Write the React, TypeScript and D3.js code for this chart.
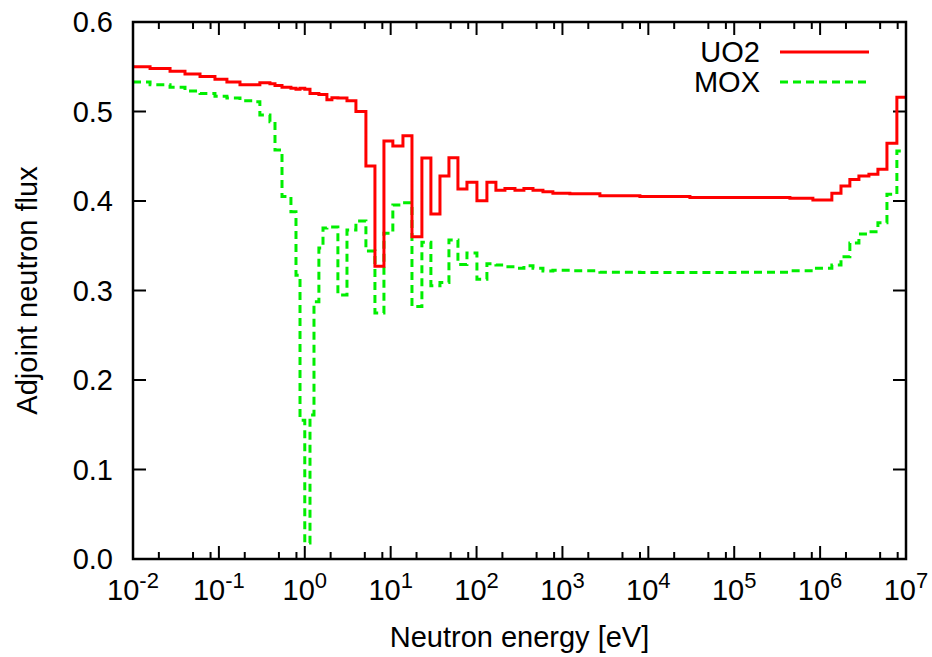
import React from 'react';
import * as d3 from 'd3';

// energy group boundaries [eV], shared by both spectra
const edges = [
  0.01, 0.0158, 0.027, 0.0403, 0.0603, 0.09, 0.124, 0.176, 0.25, 0.3, 0.393, 0.45, 0.543, 0.69, 0.79, 0.88,
  1.0, 1.15, 1.28, 1.46, 1.63, 1.81, 2.07, 2.43, 3.1, 3.94, 5.15, 6.56, 8.35, 10.6, 13.9, 17.7, 23.1, 29.4,
  37.5, 47.7, 60.7, 77.3, 101, 132, 168, 214, 280, 356, 454, 593, 774, 1220, 2730, 7980, 3.05e4, 1.16e5,
  4.45e5, 8.24e5, 1.37e6, 1.75e6, 2.22e6, 2.83e6, 3.7e6, 4.71e6, 6.0e6, 7.83e6, 1e7,
];

// adjoint flux per group (one value less than edges)
const uo2 = [
  0.55, 0.548, 0.545, 0.542, 0.539, 0.536, 0.533, 0.53, 0.53, 0.532, 0.531, 0.529, 0.527, 0.526, 0.525,
  0.526, 0.525, 0.52, 0.52, 0.519, 0.519, 0.513, 0.5155, 0.515, 0.512, 0.5, 0.439, 0.327, 0.467, 0.4615,
  0.473, 0.36, 0.448, 0.3855, 0.428, 0.4484, 0.4134, 0.421, 0.4004, 0.421, 0.412, 0.414, 0.412, 0.414,
  0.412, 0.4104, 0.4086, 0.408, 0.406, 0.405, 0.404, 0.404, 0.403, 0.401, 0.4086, 0.4168, 0.424, 0.428,
  0.43, 0.4354, 0.4645, 0.516,
];

const mox = [
  0.533, 0.53, 0.527, 0.523, 0.52, 0.517, 0.515, 0.512, 0.511, 0.496, 0.4886, 0.457, 0.405, 0.388, 0.317,
  0.155, 0.018, 0.161, 0.2875, 0.3475, 0.3698, 0.371, 0.371, 0.295, 0.3676, 0.3777, 0.344, 0.275, 0.364,
  0.3955, 0.398, 0.282, 0.354, 0.3054, 0.3088, 0.3564, 0.329, 0.342, 0.3125, 0.33, 0.3285, 0.3266, 0.325,
  0.3277, 0.325, 0.3218, 0.3225, 0.322, 0.3205, 0.32, 0.32, 0.3205, 0.322, 0.325, 0.3285, 0.3378, 0.353,
  0.363, 0.3657, 0.3758, 0.4075, 0.4559,
];

const xExponents = [-2, -1, 0, 1, 2, 3, 4, 5, 6, 7];
const yTicks = [0, 0.1, 0.2, 0.3, 0.4, 0.5, 0.6];
const minorMultipliers = [2, 5, 8];

const W = 932;
const H = 657;
const margin = { left: 133, right: 26, top: 22, bottom: 98 };
const font = '"Liberation Sans", Arial, Helvetica, sans-serif';

export default function App() {
  const x = d3.scaleLog().domain([1e-2, 1e7]).range([margin.left, W - margin.right]);
  const y = d3.scaleLinear().domain([0, 0.6]).range([H - margin.bottom, margin.top]);
  const [x0, x1] = x.range();
  const [y0, y1] = y.range();

  const line = d3
    .line<[number, number]>()
    .x((d) => x(d[0]))
    .y((d) => y(d[1]))
    .curve(d3.curveStepAfter);

  const pts = (vals: number[]): [number, number][] => {
    const p = vals.map((v, i) => [edges[i], v] as [number, number]);
    p.push([edges[edges.length - 1], vals[vals.length - 1]]);
    return p;
  };

  const minor: number[] = [];
  xExponents.slice(0, -1).forEach((e) => minorMultipliers.forEach((m) => minor.push(m * Math.pow(10, e))));

  const major = 13;
  const small = 7;

  return (
    <svg width={W} height={H} style={{ position: 'absolute', left: 0, top: 0, background: '#fff' }}>
      <defs>
        <clipPath id="plot">
          <rect x={x0} y={y1} width={x1 - x0} height={y0 - y1} />
        </clipPath>
      </defs>
      <rect width={W} height={H} fill="#fff" />

      {/* ticks, mirrored on all sides */}
      <g stroke="#000" strokeWidth={2}>
        {xExponents.map((e) => (
          <g key={'xm' + e}>
            <line x1={x(Math.pow(10, e))} x2={x(Math.pow(10, e))} y1={y0} y2={y0 - major} />
            <line x1={x(Math.pow(10, e))} x2={x(Math.pow(10, e))} y1={y1} y2={y1 + major} />
          </g>
        ))}
        {minor.map((m, i) => (
          <g key={'xn' + i}>
            <line x1={x(m)} x2={x(m)} y1={y0} y2={y0 - small} />
            <line x1={x(m)} x2={x(m)} y1={y1} y2={y1 + small} />
          </g>
        ))}
        {yTicks.map((t) => (
          <g key={'y' + t}>
            <line x1={x0} x2={x0 + major} y1={y(t)} y2={y(t)} />
            <line x1={x1} x2={x1 - major} y1={y(t)} y2={y(t)} />
          </g>
        ))}
      </g>

      {/* data */}
      <g clipPath="url(#plot)" fill="none">
        <path d={line(pts(mox)) ?? ''} stroke="#00ee00" strokeWidth={3} strokeDasharray="8,5" />
        <path d={line(pts(uo2)) ?? ''} stroke="#ff0000" strokeWidth={3} />
      </g>

      <rect x={x0} y={y1} width={x1 - x0} height={y0 - y1} fill="none" stroke="#000" strokeWidth={2.5} />

      {/* tick labels */}
      <g fontFamily={font} fontSize={29} fill="#000">
        {yTicks.map((t) => (
          <text key={'yl' + t} x={x0 - 20} y={y(t)} dy="0.36em" textAnchor="end">
            {d3.format('.1f')(t)}
          </text>
        ))}
        {xExponents.map((e) => (
          <text key={'xl' + e} x={x(Math.pow(10, e))} y={600} textAnchor="middle">
            10
            <tspan fontSize={22} dy={-12}>
              {String(e)}
            </tspan>
          </text>
        ))}
        <text x={(x0 + x1) / 2} y={647} textAnchor="middle">
          Neutron energy [eV]
        </text>
        <text transform={`translate(37,${(y0 + y1) / 2}) rotate(-90)`} textAnchor="middle">
          Adjoint neutron flux
        </text>

        {/* legend */}
        <text x={760} y={62} textAnchor="end">UO2</text>
        <line x1={780} x2={869} y1={52} y2={52} stroke="#ff0000" strokeWidth={3} />
        <text x={760} y={92} textAnchor="end">MOX</text>
        <line x1={780} x2={869} y1={82} y2={82} stroke="#00ee00" strokeWidth={3} strokeDasharray="8,5" />
      </g>
    </svg>
  );
}
